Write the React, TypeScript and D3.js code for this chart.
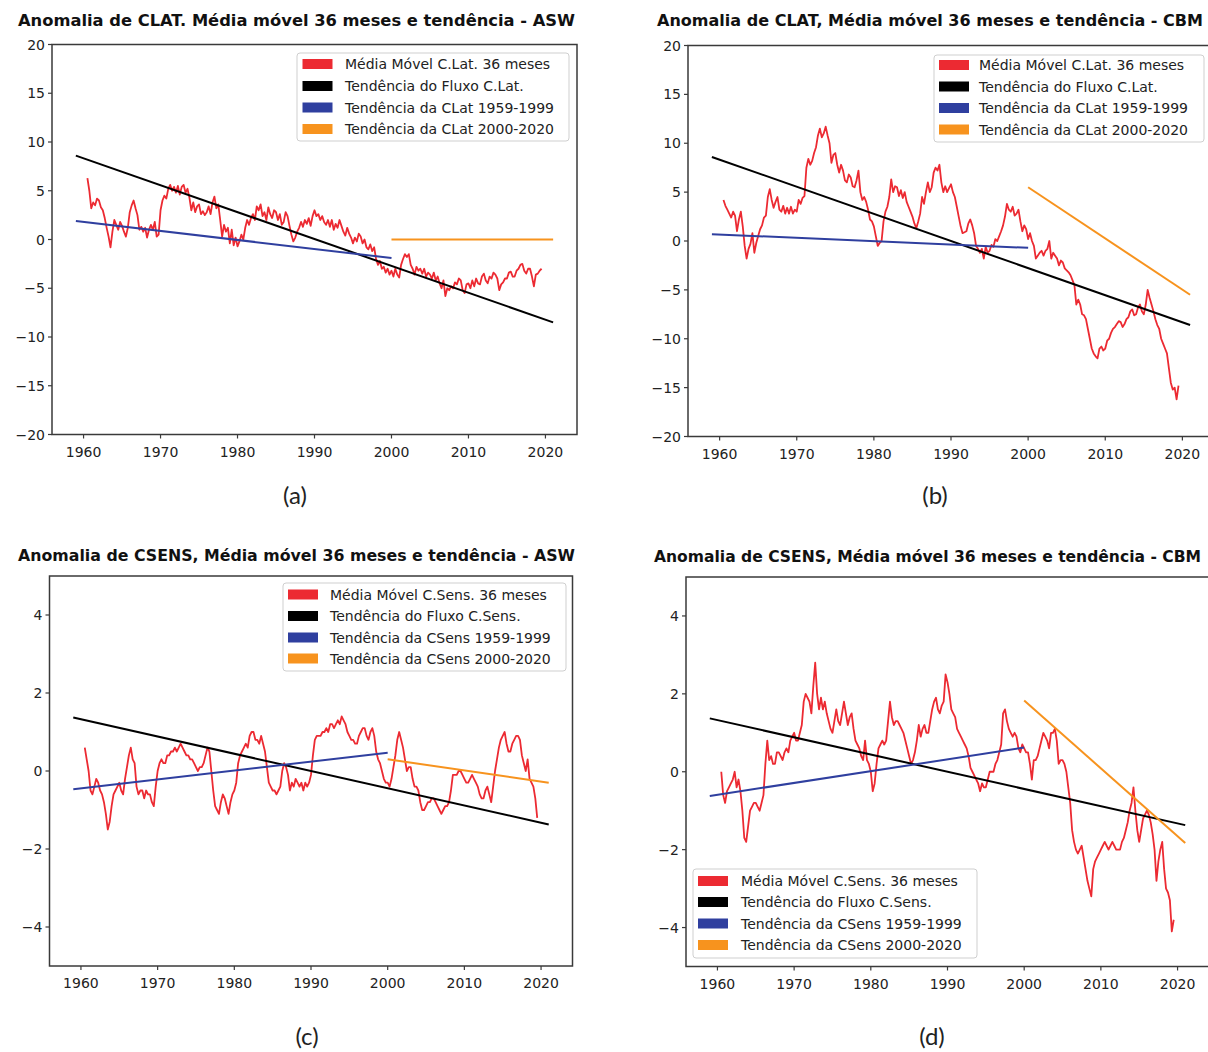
import React from "react";
import * as d3 from "d3";

// ---------- data ----------
const maStartYear = 1960.5;
const maStep = 0.25; // quarter-year samples of the 36-month moving average

const clatAswMA = [
  6.3, 5.0,
  3.2, 3.8, 3.5, 4.2,
  4.0, 3.3, 3.0, 2.2,
  1.2, 0.3, -0.8, 0.8,
  2.0, 1.5, 1.0, 1.8,
  1.4, 0.8, 0.3, 1.2,
  2.8, 3.5, 4.0, 3.2,
  2.5, 1.0, 1.3, 0.8,
  1.2, 0.2, 1.0, 1.5,
  1.0, 1.8, 0.3, 0.5,
  3.0, 4.0, 4.5, 4.2,
  5.2, 5.6, 5.0, 5.4,
  4.8, 5.5, 4.6, 5.4,
  5.6, 4.8, 5.2, 4.3,
  3.0, 3.8, 2.8, 3.4,
  3.6, 2.6, 2.9, 2.5,
  2.8, 3.4, 2.6, 3.8,
  4.4, 3.2, 3.6, 2.0,
  0.3, 1.5, 0.8, 1.2,
  -0.4, 1.0, -0.6, 0.2,
  -0.7, -0.2, 0.5, 0.0,
  1.2, 2.0, 1.5, 2.2,
  2.6, 2.0, 3.4, 3.0,
  3.6, 2.4, 2.8, 2.0,
  3.3, 2.6, 2.2, 3.0,
  2.8, 2.0, 2.6, 1.5,
  1.8, 2.8, 2.4, 1.4,
  0.5, -0.2, 0.2, 0.8,
  1.2, 1.8, 1.3, 2.0,
  1.6, 2.2, 1.4, 2.4,
  3.0, 2.4, 2.6, 2.0,
  2.4, 1.8, 1.5, 2.0,
  1.3, 2.0, 1.0, 1.6,
  1.2, 2.0, 1.4, 0.8,
  0.4, 1.2, 0.6, 0.2,
  -0.4, 0.2, -0.2, 0.6,
  0.3, -0.4, 0.0, -0.8,
  -1.0, -0.5, -1.2, -0.8,
  -2.0, -2.6, -2.2, -3.0,
  -2.8, -3.4, -3.0, -3.6,
  -3.2, -3.8, -3.0, -3.6,
  -3.9, -2.6, -2.0, -1.5,
  -1.8, -1.5, -2.6, -3.0,
  -3.6, -2.8, -3.2, -3.0,
  -3.5, -3.0, -3.8, -3.4,
  -3.6, -4.0, -3.4, -4.2,
  -3.8, -4.5, -5.0, -4.2,
  -5.8, -5.0, -5.2, -4.8,
  -5.0, -4.4, -4.6, -4.0,
  -4.2, -5.2, -5.5, -4.6,
  -4.5, -5.0, -4.2, -4.8,
  -4.0, -4.5, -4.6, -3.8,
  -3.5, -4.2, -4.5, -3.8,
  -4.0, -3.4, -3.6, -4.0,
  -5.2, -4.6, -4.4, -4.0,
  -4.0, -3.4, -3.3, -3.8,
  -3.8, -3.2, -3.0, -2.6,
  -2.5, -3.2, -3.5, -3.0,
  -3.0, -3.8, -4.8, -3.6,
  -3.5, -3.2, -3.0,
];

const clatCbmMA = [
  4.2, 3.6,
  3.2, 2.8, 2.4, 3.0,
  2.6, 1.0, 2.2, 3.0,
  1.5, -0.5, -1.8, -0.8,
  -0.3, 0.8, -1.2, -0.2,
  0.5, 1.2, 1.6, 2.4,
  2.6, 4.5, 5.3, 4.2,
  3.4, 4.0, 4.5, 3.2,
  3.0, 3.6, 2.8, 3.4,
  2.8, 3.5, 2.8, 3.2,
  3.0, 4.2, 3.8, 4.4,
  4.6, 7.5, 8.4, 7.8,
  8.2, 9.0, 9.6, 10.8,
  11.5, 10.6, 11.0, 11.7,
  10.8, 10.0, 8.0, 8.8,
  9.0, 7.8, 7.0, 7.8,
  7.2, 6.2, 6.0, 6.8,
  6.5, 5.6, 5.5, 6.2,
  7.2, 5.0, 4.2, 4.5,
  4.0, 3.2, 2.2, 2.0,
  1.5, 0.5, -0.5, -0.2,
  0.0, 2.0, 3.0, 3.5,
  4.5, 6.3, 5.0, 5.6,
  5.5, 4.6, 5.2, 4.4,
  5.0, 4.0, 3.5, 3.0,
  2.5, 1.8, 1.3, 2.0,
  2.8, 4.5, 3.8, 5.0,
  6.0, 5.0, 5.5, 7.0,
  7.5, 7.2, 7.8, 6.0,
  5.0, 5.6, 5.0, 5.4,
  5.8, 5.0, 4.5, 3.5,
  2.5, 1.5, 0.8, 0.9,
  1.0, 1.8, 2.2, 1.6,
  0.8, -0.5, -0.8, -1.2,
  -0.8, -1.8, -0.6, -1.2,
  -1.0, -0.4, -0.6, 0.2,
  0.0, 0.5, 1.0, 1.6,
  2.5, 3.8, 3.2, 3.0,
  3.5, 2.6, 2.8, 3.2,
  2.0, 1.0, 1.6, 1.2,
  0.2, 0.8, 0.0, -0.5,
  -1.8, -1.5, -1.2, -1.0,
  -1.5, -1.0, -0.8, 0.0,
  -1.8, -1.2, -1.5, -1.8,
  -2.5, -2.0, -2.2, -2.8,
  -3.0, -3.2, -3.5, -4.0,
  -4.5, -6.5, -6.0, -6.5,
  -7.5, -7.6, -8.0, -9.0,
  -10.0, -11.0, -11.5, -11.8,
  -12.0, -11.0, -10.8, -11.2,
  -11.0, -10.2, -10.0, -9.4,
  -9.0, -8.8, -8.5, -8.2,
  -8.3, -8.8, -8.5, -8.0,
  -7.8, -7.2, -7.0, -7.6,
  -7.5, -6.8, -6.5, -7.2,
  -7.5, -6.5, -5.0, -5.8,
  -6.5, -7.2, -8.0, -8.6,
  -9.0, -10.0, -10.5, -11.0,
  -11.5, -13.0, -14.5, -15.2,
  -15.0, -16.2, -14.8,
];

const csensAswMA = [
  0.6, 0.3,
  0.0, -0.5, -0.6, -0.4,
  -0.2, -0.3, -0.5, -0.6,
  -0.8, -1.1, -1.5, -1.3,
  -0.9, -0.6, -0.5, -0.4,
  -0.3, -0.5, -0.6, -0.2,
  0.1, 0.4, 0.6, 0.3,
  0.2, -0.4, -0.6, -0.5,
  -0.5, -0.7, -0.5, -0.6,
  -0.6, -0.8, -0.9, -0.4,
  0.0, 0.2, 0.3, 0.2,
  0.2, 0.4, 0.4, 0.5,
  0.5, 0.6, 0.5, 0.6,
  0.7, 0.6, 0.5, 0.4,
  0.4, 0.3, 0.3, 0.2,
  0.1, 0.0, 0.1, 0.1,
  0.2, 0.4, 0.6, 0.5,
  0.0, -0.5, -0.9, -1.0,
  -1.1, -0.8, -0.6, -0.7,
  -0.9, -1.1, -0.8, -0.6,
  -0.5, -0.3, 0.2, 0.4,
  0.5, 0.6, 0.7, 0.6,
  0.9, 1.0, 1.0, 0.8,
  0.8, 0.7, 0.9, 0.7,
  0.5, 0.1, -0.3, -0.4,
  -0.5, -0.5, -0.6, -0.5,
  -0.4, 0.0, 0.2, 0.1,
  -0.1, -0.5, -0.3, -0.4,
  -0.2, -0.3, -0.4, -0.3,
  -0.5, -0.3, -0.4, -0.3,
  -0.1, 0.4, 0.8, 0.9,
  0.9, 0.9, 1.0, 1.0,
  1.1, 1.0, 1.2, 1.2,
  1.1, 1.2, 1.3, 1.2,
  1.4, 1.3, 1.2, 1.0,
  0.9, 0.8, 0.8, 0.7,
  0.7, 0.9, 1.0, 1.1,
  1.1, 0.9, 0.8, 1.0,
  1.1, 0.9, 0.5, 0.3,
  0.2, 0.0, -0.2, -0.3,
  -0.3, -0.4, -0.2, 0.1,
  0.4, 0.8, 1.0, 0.8,
  0.6, 0.3, 0.0, 0.1,
  0.1, -0.2, -0.4, -0.4,
  -0.5, -0.8, -1.0, -1.0,
  -0.9, -0.8, -0.8, -0.7,
  -0.7, -0.8, -0.9, -1.0,
  -1.1, -1.0, -0.9, -0.9,
  -0.8, -0.5, -0.1, -0.1,
  -0.1, 0.0, 0.0, -0.1,
  -0.2, -0.3, -0.3, -0.2,
  -0.1, -0.2, -0.3, -0.4,
  -0.6, -0.7, -0.7, -0.5,
  -0.4, -0.6, -0.8, -0.4,
  0.0, 0.3, 0.6, 0.8,
  0.9, 1.0, 0.7, 0.5,
  0.5, 0.7, 0.8, 0.9,
  0.9, 0.8, 0.4, 0.2,
  0.0, 0.3, -0.2, -0.3,
  -0.4, -0.7, -1.2,
];

const csensCbmMA = [
  0.0, -0.6,
  -0.8, -0.5, -0.4, -0.3,
  -0.2, 0.0, -0.4, -0.2,
  -0.5, -1.0, -1.7, -1.8,
  -1.4, -1.0, -0.9, -0.8,
  -0.8, -0.9, -1.0, -0.8,
  -0.6, 0.2, 0.8, 0.3,
  0.4, 0.2, 0.2, 0.5,
  0.5, 0.4, 0.3, 0.5,
  0.6, 0.5, 0.8, 0.9,
  1.0, 0.8, 0.8, 1.0,
  1.2, 1.8, 2.0, 1.9,
  1.8, 1.5, 2.2, 2.8,
  2.0, 1.6, 1.9, 1.6,
  1.8, 1.5, 1.3, 1.1,
  1.0, 1.3, 1.6, 1.3,
  1.2, 1.5, 1.8, 1.5,
  1.2, 1.4, 1.5, 1.1,
  0.8, 0.7, 0.6, 0.4,
  0.3, 0.8, 0.3, 0.2,
  0.0, -0.5, -0.3, 0.2,
  0.6, 0.7, 0.8, 0.7,
  0.8, 1.3, 1.8, 1.4,
  1.2, 1.3, 1.3, 1.2,
  1.1, 1.0, 0.8, 0.6,
  0.4, 0.2, 0.3, 0.5,
  0.8, 1.2, 0.9, 1.1,
  1.2, 1.0, 1.0, 1.3,
  1.6, 1.8, 1.9, 1.6,
  1.5, 1.7, 1.8, 2.5,
  2.3, 2.0, 1.6, 1.5,
  1.4, 1.1, 1.0, 0.9,
  0.8, 0.7, 0.6, 0.4,
  0.1, 0.0, -0.1, -0.2,
  -0.3, -0.5, -0.3, -0.4,
  -0.4, -0.2, 0.0, 0.0,
  0.0, 0.2, 0.3, 0.5,
  0.7, 1.5, 1.6, 1.3,
  1.1, 1.0, 0.9, 1.0,
  0.9, 0.6, 0.5, 0.7,
  0.6, 0.5, 0.5, 0.2,
  -0.2, 0.3, 0.3, 0.4,
  0.6, 0.8, 1.0, 0.9,
  0.8, 0.6, 1.0, 1.0,
  1.1, 0.8, 0.2, 0.3,
  0.3, 0.2, 0.0, -0.4,
  -0.8, -1.5, -1.8, -2.0,
  -2.1, -2.0, -1.9, -2.2,
  -2.5, -2.8, -3.0, -3.2,
  -2.5, -2.3, -2.2, -2.1,
  -2.0, -1.9, -1.8, -1.9,
  -2.0, -1.9, -1.8, -1.9,
  -2.0, -2.0, -2.0, -1.8,
  -1.7, -1.5, -1.3, -1.0,
  -0.8, -0.4, -1.0, -1.5,
  -1.8, -1.5, -1.2, -1.1,
  -1.0, -1.1, -1.3, -1.6,
  -2.0, -2.8, -2.3, -2.0,
  -1.8, -2.5, -3.0, -3.1,
  -3.3, -4.1, -3.8,
];

// trend line end points
const totalTrendYears = [1959, 2021];
const firstTrendYears = [1959, 2000];
const secondTrendYears = [2000, 2021];

const clatAswTotalTrend = [8.6, -8.5];
const clatAswFirstTrend = [1.9, -1.9];
const clatAswSecondTrend = [0.0, 0.0];

const clatCbmTotalTrend = [8.6, -8.6];
const clatCbmFirstTrend = [0.7, -0.7];
const clatCbmSecondTrend = [5.5, -5.5];

const csensAswTotalTrend = [1.37, -1.37];
const csensAswFirstTrend = [-0.47, 0.47];
const csensAswSecondTrend = [0.3, -0.3];

const csensCbmTotalTrend = [1.37, -1.37];
const csensCbmFirstTrend = [-0.62, 0.62];
const csensCbmSecondTrend = [1.83, -1.83];

const xTicks = [1960, 1970, 1980, 1990, 2000, 2010, 2020];
const clatYTicks = [-20, -15, -10, -5, 0, 5, 10, 15, 20];
const csensYTicks = [-4, -2, 0, 2, 4];

const clatLegend = [
  "Média Móvel C.Lat. 36 meses",
  "Tendência do Fluxo C.Lat.",
  "Tendência da CLat 1959-1999",
  "Tendência da CLat 2000-2020",
];
const csensLegend = [
  "Média Móvel C.Sens. 36 meses",
  "Tendência do Fluxo C.Sens.",
  "Tendência da CSens 1959-1999",
  "Tendência da CSens 2000-2020",
];

const titles = [
  "Anomalia de CLAT. Média móvel 36 meses e tendência - ASW",
  "Anomalia de CLAT, Média móvel 36 meses e tendência - CBM",
  "Anomalia de CSENS, Média móvel 36 meses e tendência - ASW",
  "Anomalia de CSENS, Média móvel 36 meses e tendência - CBM",
];
const captions = ["(a)", "(b)", "(c)", "(d)"];

// ---------- styles ----------
const RED = "#ec2a32";
const BLACK = "#000000";
const BLUE = "#2f3f9f";
const ORANGE = "#f7931e";
const AXIS = "#3a3a3a";
const FONT = "DejaVu Sans, sans-serif";

type PanelProps = {
  left: number;
  right: number;
  top: number;
  bottom: number;
  yDomain: [number, number];
  yTicks: number[];
  series: number[];
  total: number[];
  first: number[];
  second: number[];
  legend: string[];
  legendBox: { x: number; y: number; w: number; h: number; patchX: number; textX: number; rows: number[] };
  title: string;
  titleX: number;
  titleY: number;
  titleLen: number;
  titleSize: number;
  caption: string;
  captionX: number;
  captionY: number;
};

function fmt(v: number) {
  return v < 0 ? "\u2212" + Math.abs(v) : String(v);
}

function Panel(p: PanelProps) {
  const x = d3.scaleLinear().domain([1955.9, 2024.1]).range([p.left, p.right]);
  const y = d3.scaleLinear().domain(p.yDomain).range([p.bottom, p.top]);
  const line = d3
    .line<number>()
    .x((_, i) => x(maStartYear + i * maStep))
    .y((v) => y(v));
  const seg = d3
    .line<[number, number]>()
    .x((d) => x(d[0]))
    .y((d) => y(d[1]));
  const pairs = (yrs: number[], vals: number[]) =>
    yrs.map((yr, i) => [yr, vals[i]] as [number, number]);
  const colors = [RED, BLACK, BLUE, ORANGE];
  const lb = p.legendBox;
  const clipId = "clip" + p.caption.replace(/[()]/g, "");
  return (
    <g>
      <defs>
        <clipPath id={clipId}>
          <rect x={p.left} y={p.top} width={p.right - p.left} height={p.bottom - p.top} />
        </clipPath>
      </defs>
      <text
        x={p.titleX}
        y={p.titleY}
        fontFamily={FONT}
        fontWeight="bold"
        fontSize={p.titleSize}
        fill="#111"
        textLength={p.titleLen}
        lengthAdjust="spacingAndGlyphs"
      >
        {p.title}
      </text>
      <g clipPath={`url(#${clipId})`}>
        <path d={line(p.series) || ""} fill="none" stroke={RED} strokeWidth={1.8} strokeLinejoin="round" />
        <path d={seg(pairs(totalTrendYears, p.total)) || ""} stroke={BLACK} strokeWidth={2} fill="none" />
        <path d={seg(pairs(firstTrendYears, p.first)) || ""} stroke={BLUE} strokeWidth={2} fill="none" />
        <path d={seg(pairs(secondTrendYears, p.second)) || ""} stroke={ORANGE} strokeWidth={2} fill="none" />
      </g>
      <rect
        x={p.left}
        y={p.top}
        width={p.right - p.left}
        height={p.bottom - p.top}
        fill="none"
        stroke={AXIS}
        strokeWidth={1.5}
      />
      {xTicks.map((t) => (
        <g key={"x" + t}>
          <line x1={x(t)} x2={x(t)} y1={p.bottom} y2={p.bottom + 4} stroke={AXIS} strokeWidth={1.2} />
          <text
            x={x(t)}
            y={p.bottom + 22}
            textAnchor="middle"
            fontFamily={FONT}
            fontSize={14}
            fill="#222"
          >
            {t}
          </text>
        </g>
      ))}
      {p.yTicks.map((t) => (
        <g key={"y" + t}>
          <line x1={p.left - 4} x2={p.left} y1={y(t)} y2={y(t)} stroke={AXIS} strokeWidth={1.2} />
          <text
            x={p.left - 7}
            y={y(t) + 5}
            textAnchor="end"
            fontFamily={FONT}
            fontSize={14}
            fill="#222"
          >
            {fmt(t)}
          </text>
        </g>
      ))}
      <rect
        x={lb.x}
        y={lb.y}
        width={lb.w}
        height={lb.h}
        rx={3}
        fill="#fff"
        fillOpacity={0.85}
        stroke="#cfcfcf"
        strokeWidth={1}
      />
      {p.legend.map((label, i) => (
        <g key={"l" + i}>
          <rect x={lb.patchX} y={lb.rows[i] - 5} width={30} height={10} fill={colors[i]} />
          <text x={lb.textX} y={lb.rows[i] + 5} fontFamily={FONT} fontSize={14} fill="#222">
            {label}
          </text>
        </g>
      ))}
      <text
        x={p.captionX}
        y={p.captionY}
        textAnchor="middle"
        fontFamily="Lato, sans-serif"
        fontSize={24}
        fill="#222"
      >
        {p.caption}
      </text>
    </g>
  );
}

export default function App() {
  return (
    <svg
      width={1208}
      height={1052}
      style={{ position: "absolute", left: 0, top: 0, background: "#fff" }}
    >
      <rect x={0} y={0} width={1208} height={1052} fill="#fff" />
      <Panel
        left={52}
        right={577}
        top={44.5}
        bottom={434.5}
        yDomain={[-20, 20]}
        yTicks={clatYTicks}
        series={clatAswMA}
        total={clatAswTotalTrend}
        first={clatAswFirstTrend}
        second={clatAswSecondTrend}
        legend={clatLegend}
        legendBox={{ x: 297, y: 53, w: 272, h: 88, patchX: 302.5, textX: 345, rows: [64, 86, 107.5, 129] }}
        title={titles[0]}
        titleX={18}
        titleY={26}
        titleLen={557}
        titleSize={16}
        caption={captions[0]}
        captionX={295}
        captionY={504}
      />
      <Panel
        left={688}
        right={1214}
        top={45.5}
        bottom={436.5}
        yDomain={[-20, 20]}
        yTicks={clatYTicks}
        series={clatCbmMA}
        total={clatCbmTotalTrend}
        first={clatCbmFirstTrend}
        second={clatCbmSecondTrend}
        legend={clatLegend}
        legendBox={{ x: 934, y: 55, w: 270, h: 87, patchX: 939, textX: 979, rows: [65, 86.5, 108, 129.5] }}
        title={titles[1]}
        titleX={657}
        titleY={26}
        titleLen={546}
        titleSize={15.4}
        caption={captions[1]}
        captionX={935}
        captionY={504}
      />
      <Panel
        left={49.5}
        right={572.5}
        top={576}
        bottom={966}
        yDomain={[-5, 5]}
        yTicks={csensYTicks}
        series={csensAswMA}
        total={csensAswTotalTrend}
        first={csensAswFirstTrend}
        second={csensAswSecondTrend}
        legend={csensLegend}
        legendBox={{ x: 283, y: 583, w: 283, h: 88, patchX: 288, textX: 330, rows: [594.5, 616, 637.5, 658.5] }}
        title={titles[2]}
        titleX={18}
        titleY={561}
        titleLen={557}
        titleSize={16}
        caption={captions[2]}
        captionX={307}
        captionY={1045}
      />
      <Panel
        left={686}
        right={1209}
        top={577}
        bottom={966.5}
        yDomain={[-5, 5]}
        yTicks={csensYTicks}
        series={csensCbmMA}
        total={csensCbmTotalTrend}
        first={csensCbmFirstTrend}
        second={csensCbmSecondTrend}
        legend={csensLegend}
        legendBox={{ x: 693, y: 869, w: 284, h: 89, patchX: 698, textX: 741, rows: [881, 902, 923.5, 945] }}
        title={titles[3]}
        titleX={654}
        titleY={561.5}
        titleLen={547}
        titleSize={15.2}
        caption={captions[3]}
        captionX={932}
        captionY={1045}
      />
    </svg>
  );
}
